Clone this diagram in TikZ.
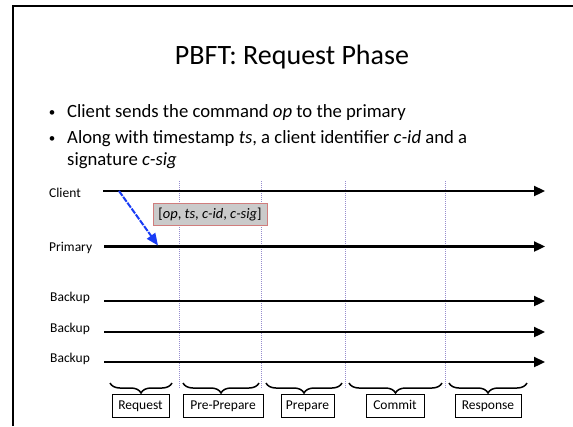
\documentclass[tikz,border=0pt]{standalone}
\usepackage{fontspec}
\setmainfont{Carlito}
\usetikzlibrary{arrows.meta,decorations.pathreplacing}
\definecolor{msgfill}{RGB}{202,202,202}
\definecolor{msgedge}{RGB}{208,125,125}
\definecolor{msgblue}{RGB}{25,60,245}
\definecolor{phasecol}{RGB}{150,140,205}
\begin{document}
\begin{tikzpicture}[x=1pt,y=-1pt,
  timeline/.style={line width=2.3pt,-{Triangle[length=11pt,width=10pt]}},
  phaseline/.style={draw=phasecol,line width=0.7pt,dash pattern=on 1pt off 1pt},
  proclabel/.style={font=\fontsize{13.5}{15}\selectfont,anchor=base west,inner sep=0},
  bullettext/.style={font=\fontsize{18.7}{21}\selectfont,anchor=base west,inner sep=0},
  bulletdot/.style={font=\fontsize{13}{15}\selectfont,anchor=base,inner sep=0},
  phasebox/.style={draw,line width=0.8pt,font=\fontsize{13.5}{15}\selectfont,
    minimum height=22.5pt,text height=9.5pt,text depth=3pt,inner xsep=2pt,inner ysep=0},
  phasebrace/.style={decorate,decoration={brace,amplitude=10pt},line width=1.5pt},
  msgbox/.style={draw=msgedge,fill=msgfill,line width=0.9pt,minimum width=114pt,
    minimum height=22pt,font=\fontsize{14.5}{16}\selectfont,inner sep=0},
  msgarrow/.style={draw=msgblue,line width=2pt,dash pattern=on 6pt off 1.2pt,
    -{Triangle[length=12pt,width=10pt]}},
]
\useasboundingbox (0,0) rectangle (573,426);

% slide frame
\coordinate (fb) at (13,426);
\coordinate (ftl) at (13,6);
\coordinate (ftr) at (573,6);
\draw[line width=2pt] (fb) -- (ftl) -- (ftr);

% title and bullets
\node[font=\fontsize{28}{32}\selectfont,anchor=base,inner sep=0] (title) at (292,64) {PBFT: Request Phase};
\node[bulletdot] (b1) at (52,116) {•};
\node[bullettext] (t1) at (67,117) {Client sends the command \textit{op} to the primary};
\node[bulletdot] (b2) at (52,142) {•};
\node[bullettext] (t2) at (67,143) {Along with timestamp \textit{ts}, a client identifier \textit{c-id} and a};
\node[bullettext] (t3) at (67,165) {signature \textit{c-sig}};

% phase separators
\foreach \x [count=\i] in {179,261.5,345.5,445}{
  \coordinate (v\i t) at (\x,181);
  \coordinate (v\i b) at (\x,388);
  \draw[phaseline] (v\i t) -- (v\i b);
}

% process labels
\node[proclabel] (lclient) at (49,197) {Client};
\node[proclabel] (lprimary) at (49,251.5) {Primary};
\node[proclabel] (lbackup1) at (50,301) {Backup};
\node[proclabel] (lbackup2) at (50,332) {Backup};
\node[proclabel] (lbackup3) at (50,362) {Backup};

% time lines
\coordinate (c0) at (103,191);   \coordinate (c1) at (545,191);
\coordinate (p0) at (104,246.5); \coordinate (p1) at (545,246.5);
\coordinate (k0) at (104,301);   \coordinate (k1) at (545,301);
\coordinate (m0) at (104,332);   \coordinate (m1) at (545,332);
\coordinate (n0) at (104,362);   \coordinate (n1) at (545,362);
\draw[timeline] (c0) -- (c1);
\draw[timeline] (p0) -- (p1);
\draw[timeline] (k0) -- (k1);
\draw[timeline] (m0) -- (m1);
\draw[timeline] (n0) -- (n1);

% request message
\coordinate (send) at (119,191);
\coordinate (recv) at (158,245.5);
\draw[msgarrow] (send) -- (recv);
\node[msgbox] (msg) at (210,214) {[\textit{op}, \textit{ts}, \textit{c-id}, \textit{c-sig}]};

% phase braces
\foreach \a/\b [count=\i] in {110/172,183/259,266/342,349/442,449/527}{
  \coordinate (br\i l) at (\a,383);
  \coordinate (br\i r) at (\b,383);
  \draw[phasebrace] (br\i r) -- (br\i l);
}

% phase names
\node[phasebox,minimum width=57pt] (preq) at (140.5,406) {Request};
\node[phasebox,minimum width=80pt] (ppre) at (223,406) {Pre-Prepare};
\node[phasebox,minimum width=53pt] (pprep) at (307.5,406) {Prepare};
\node[phasebox,minimum width=58pt] (pcom) at (395,406) {Commit};
\node[phasebox,minimum width=66pt] (pres) at (488,406) {Response};
\end{tikzpicture}
\end{document}
